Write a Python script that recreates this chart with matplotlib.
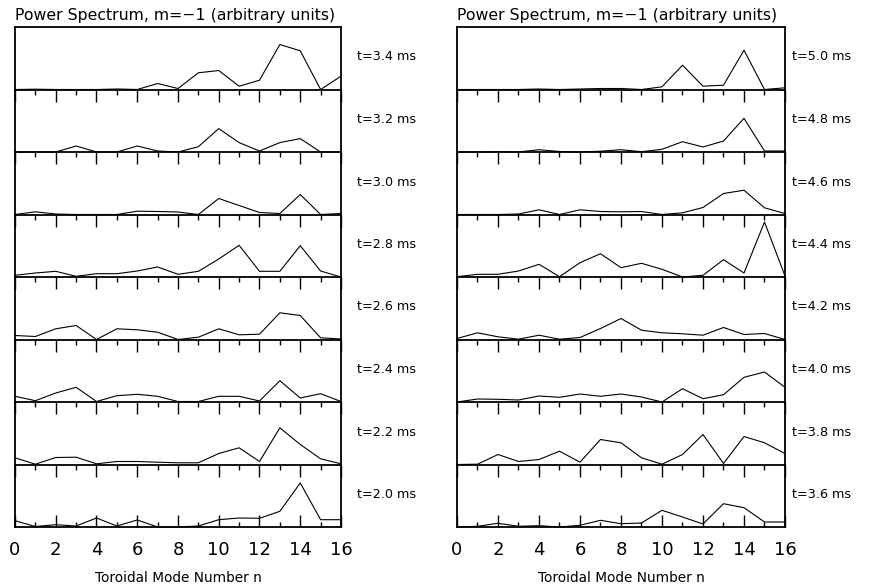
import numpy as np
import matplotlib
matplotlib.use("Agg")
import matplotlib.pyplot as plt

# toroidal mode numbers
n = np.arange(17)

# power spectra (arbitrary units), left panel, top to bottom
t34 = [0, 0.3, 0, 0, 0, 0.5, 0, 6, 1, 16.7, 19, 3.3, 9.3, 45, 38.7, 0, 13.3]
t32 = [0, 0, 0, 6, 0, 0, 6, 1, 0, 5.3, 23.4, 9.4, 1, 9.4, 13.4, 0, 0]
t30 = [0, 2.7, 0.5, 0, 0, 0, 3.3, 3, 2.5, 0, 16, 9, 2, 1, 20, 0, 1]
t28 = [1.7, 4, 5.7, 0.7, 3.3, 3.3, 6, 10, 2.7, 5.7, 18, 31.7, 5.7, 5.7, 31.3, 6, 0]
t26 = [4, 3, 10.7, 14, 0, 10.7, 9.7, 7.3, 0, 2.3, 10.7, 4.7, 5.3, 26.7, 24, 1.7, 0.5]
t24 = [5.7, 1.3, 9, 14.7, 0.5, 6.3, 7.7, 5.7, 0.5, 0.5, 5.7, 5.7, 1, 21.3, 4, 8.3, 0.5]
t22 = [6.7, 0.3, 7, 7.3, 0.7, 3, 3, 2.3, 1.7, 1.7, 11, 16.7, 3, 36.7, 20, 5.7, 0.7]
t20 = [6.3, 0.5, 2.3, 1, 9, 1, 7, 0, 0, 1, 7.3, 9, 8.7, 15.7, 44, 7.3, 7.3]

# right panel, top to bottom
t50 = [0, 0, 0, 0, 0.5, 0, 0.5, 1, 1, 0, 2.7, 24.3, 3.3, 4.3, 39.3, 0, 1.7]
t48 = [0, 0, 0.3, 0, 2.3, 0.5, 0, 0.8, 2.3, 0.3, 2.7, 10.3, 5, 11, 33.7, 1, 1]
t46 = [0, 0, 0, 0.5, 4.7, 0, 4.7, 3, 2.7, 3, 0, 1.7, 7, 21, 24.3, 6.7, 1]
t44 = [0.3, 2.7, 2.7, 6, 12.7, 0.3, 14.3, 23.3, 9.3, 13.7, 7.7, 0, 1.7, 17.3, 4, 55, 1]
t42 = [1, 6.7, 2.7, 0.3, 4.3, 0.3, 2, 11, 21, 9.3, 6.7, 5.7, 4.3, 12, 5, 6, 0]
t40 = [0, 3, 2.7, 2, 6, 4.7, 8, 5.7, 8, 5, 0, 13.3, 3.3, 7.3, 24.7, 30, 14.7]
t38 = [0, 0.3, 10, 3, 5, 13.3, 2.3, 25, 21.7, 6.7, 0.3, 10, 30, 1, 28, 21.7, 11]
t36 = [0, 0.7, 3.7, 0.7, 1.3, 0, 1.7, 6.7, 3.3, 4, 16.7, 10, 3, 23.3, 19.3, 5, 5]

left_labels = ["t=3.4 ms", "t=3.2 ms", "t=3.0 ms", "t=2.8 ms",
               "t=2.6 ms", "t=2.4 ms", "t=2.2 ms", "t=2.0 ms"]
right_labels = ["t=5.0 ms", "t=4.8 ms", "t=4.6 ms", "t=4.4 ms",
                "t=4.2 ms", "t=4.0 ms", "t=3.8 ms", "t=3.6 ms"]
left_series = [t34, t32, t30, t28, t26, t24, t22, t20]
right_series = [t50, t48, t46, t44, t42, t40, t38, t36]

title = "Power Spectrum, m=\u22121 (arbitrary units)"
xlabel = "Toroidal Mode Number n"

W, H = 875, 588
fig = plt.figure(figsize=(W / 100, H / 100), dpi=100)

top_px, strip_px = 27, 62.5
nstrip = 8


def draw_panel(x0, x1, series, labels, label_gap):
    for i, (y, lab) in enumerate(zip(series, labels)):
        ytop = top_px + i * strip_px
        rect = [x0 / W, 1 - (ytop + strip_px) / H, (x1 - x0) / W, strip_px / H]
        ax = fig.add_axes(rect)
        ax.patch.set_visible(False)
        ax.plot(n, y, color="black", lw=0.8, clip_on=False)
        ax.set_xlim(0, 16)
        ax.set_ylim(0, strip_px)
        ax.set_yticks([])
        for s in ax.spines.values():
            s.set_linewidth(1.3)
        if i > 0:
            ax.spines["top"].set_visible(False)
        ax.set_xticks(np.arange(0, 17, 2))
        ax.set_xticks(np.arange(1, 17, 2), minor=True)
        last = i == nstrip - 1
        ax.tick_params(axis="x", which="major", length=8.5, width=1.0,
                       direction="in" if last else "out", pad=10, labelsize=13)
        ax.tick_params(axis="x", which="minor", length=3.8, width=1.0,
                       direction="in" if last else "out")
        if last:
            ax.set_xlabel(xlabel, fontsize=9.8, labelpad=9)
        else:
            ax.set_xticklabels([])
        ax.text(1 + label_gap / (x1 - x0), 0.52, lab, transform=ax.transAxes,
                fontsize=9.2, ha="left", va="center")
        if i == 0:
            ax.text(0, 1.06, title, transform=ax.transAxes, fontsize=11.3,
                    ha="left", va="bottom")


draw_panel(15, 341, left_series, left_labels, 16)
draw_panel(457, 785, right_series, right_labels, 7)

fig.savefig("out.png", dpi=100)
